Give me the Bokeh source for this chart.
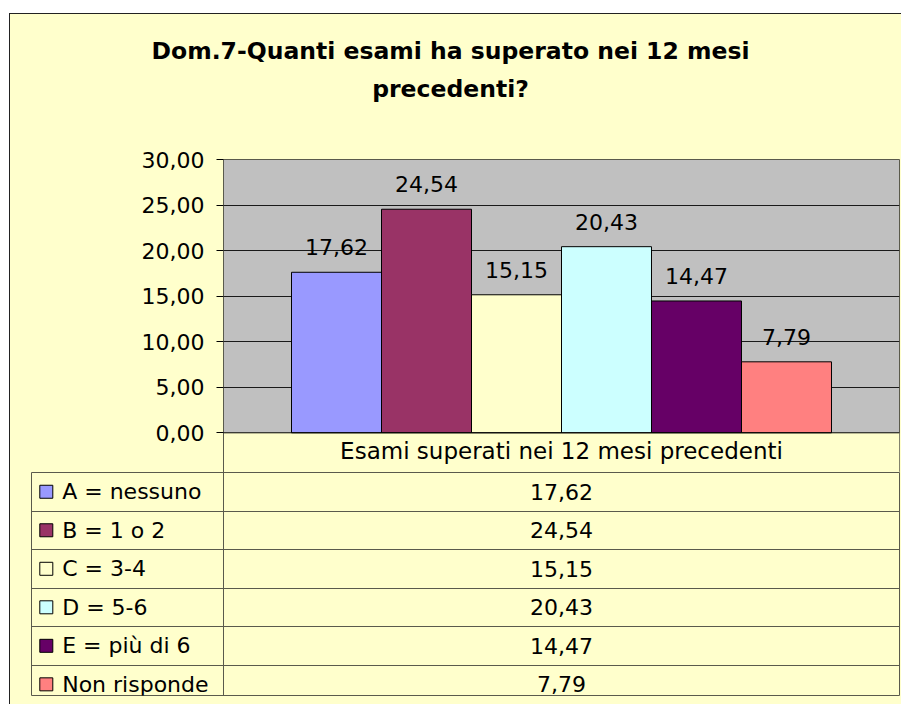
from bokeh.plotting import figure
from bokeh.models import Range1d, FixedTicker, BoxAnnotation, Span
from bokeh.layouts import column
from bokeh.embed import file_html
from bokeh.resources import INLINE
from bokeh.core.properties import value

# ---------------- data ----------------
TITLE_LINES = ["Dom.7-Quanti esami ha superato nei 12 mesi", "precedenti?"]
CATEGORY = "Esami superati nei 12 mesi precedenti"
SERIES = ["A = nessuno", "B = 1 o 2", "C = 3-4", "D = 5-6", "E = più di 6", "Non risponde"]
VALUES = [17.62, 24.54, 15.15, 20.43, 14.47, 7.79]
COLORS = ["#9999FF", "#993366", "#FFFFCC", "#CCFFFF", "#660066", "#FF8080"]
Y_TICKS = [0, 5, 10, 15, 20, 25, 30]
Y_TICK_LABELS = ["0,00", "5,00", "10,00", "15,00", "20,00", "25,00", "30,00"]

# ---------------- style ----------------
BG = "#FFFFCC"
PLOT_BG = "#C0C0C0"
LINE = "#5a5a4c"
FONT = "DejaVu Sans"
FS = "22px"

def fmt(v):
    return f"{v:.2f}".replace(".", ",")

labels = [fmt(v) for v in VALUES]
positions = [i + 1 for i in range(len(VALUES))]
center = sum(positions) / len(positions)

W = 891

# ---------------- title band ----------------
TH = 120
h = figure(width=W, height=TH, x_range=Range1d(0, W), y_range=Range1d(TH, 0),
           output_backend="svg", toolbar_location=None, title_location=None,
           x_axis_location=None, y_axis_location=None,
           min_border=0, background_fill_color=BG, border_fill_color=BG,
           outline_line_color=None, frame_align=False)
h.grid.visible = False
h.text(x=[440, 440], y=[36, 74], text=TITLE_LINES, text_align="center", text_baseline="middle",
       text_font=value(FONT), text_font_size="23.5px", text_font_style="bold", text_color="black")

# ---------------- main chart ----------------
p = figure(width=W, height=338,
           x_range=Range1d(-0.2556, 7.2556), y_range=Range1d(-4.36, 30),
           output_backend="svg", toolbar_location=None, title_location=None,
           x_axis_location=None,
           min_border_left=213, min_border_right=2, min_border_top=25, min_border_bottom=0,
           background_fill_color=PLOT_BG, border_fill_color=BG,
           outline_line_color=LINE, outline_line_width=1, frame_align=False)

p.xgrid.visible = False
p.ygrid.ticker = FixedTicker(ticks=Y_TICKS[1:-1])
p.ygrid.grid_line_color = "#1a1a1a"
p.ygrid.grid_line_width = 1

p.yaxis.ticker = FixedTicker(ticks=Y_TICKS)
p.yaxis.major_label_overrides = {t: l for t, l in zip(Y_TICKS, Y_TICK_LABELS)}
p.yaxis.major_label_text_font = FONT
p.yaxis.major_label_text_font_size = FS
p.yaxis.major_label_text_color = "black"
p.yaxis.major_tick_out = 7
p.yaxis.major_tick_in = 0
p.yaxis.minor_tick_line_color = None
p.yaxis.major_tick_line_color = "black"
p.yaxis.axis_line_color = LINE
p.yaxis.major_label_standoff = 12

# yellow band below zero (category row)
p.add_layout(BoxAnnotation(top=0, fill_color=BG, fill_alpha=1, line_color=None, level="underlay"))

p.vbar(x=positions, top=VALUES, bottom=0, width=1,
       fill_color=COLORS, line_color="black", line_width=1)

p.add_layout(Span(location=0, dimension="width", line_color="black", line_width=1))

p.text(x=positions, y=VALUES, text=labels, text_align="center", text_baseline="middle",
       y_offset=-25, text_font=value(FONT), text_font_size=FS, text_color="black")

p.text(x=[center], y=[0], text=[CATEGORY], text_align="center", text_baseline="middle",
       y_offset=18, text_font=value(FONT), text_font_size="23px", text_color="black")

# ---------------- data table ----------------
TW = 868
DIV = 192
rows = [i + 0.5 for i in range(len(SERIES))]

t = figure(width=W, height=232,
           x_range=Range1d(0, TW), y_range=Range1d(5.79, 0),
           output_backend="svg", toolbar_location=None, title_location=None,
           x_axis_location=None, y_axis_location=None,
           min_border_left=21, min_border_right=2, min_border_top=0, min_border_bottom=9,
           background_fill_color=BG, border_fill_color=BG,
           outline_line_color=LINE, outline_line_width=1, frame_align=False)
t.ygrid.ticker = FixedTicker(ticks=[i + 1 for i in range(len(SERIES) - 1)])
t.ygrid.grid_line_color = LINE
t.xgrid.ticker = FixedTicker(ticks=[DIV])
t.xgrid.grid_line_color = LINE

t.scatter(x=[14.8] * len(SERIES), y=rows, marker="square", size=13,
          fill_color=COLORS, line_color="black", line_width=1)
t.text(x=[30.7] * len(SERIES), y=rows, text=SERIES, text_align="left", text_baseline="middle",
       y_offset=0, text_font=value(FONT), text_font_size=FS, text_color="black")
t.text(x=[(DIV + TW) / 2] * len(SERIES), y=rows, text=labels, text_align="center",
       y_offset=0, text_baseline="middle", text_font=value(FONT), text_font_size=FS,
       text_color="black")

layout = column(h, p, t, spacing=0, margin=(13, 0, 0, 9),
                styles={"border-top": "1px solid #222222", "border-left": "1px solid #222222",
                        "background-color": BG})

open("out.html", "w").write(file_html(layout, INLINE))
